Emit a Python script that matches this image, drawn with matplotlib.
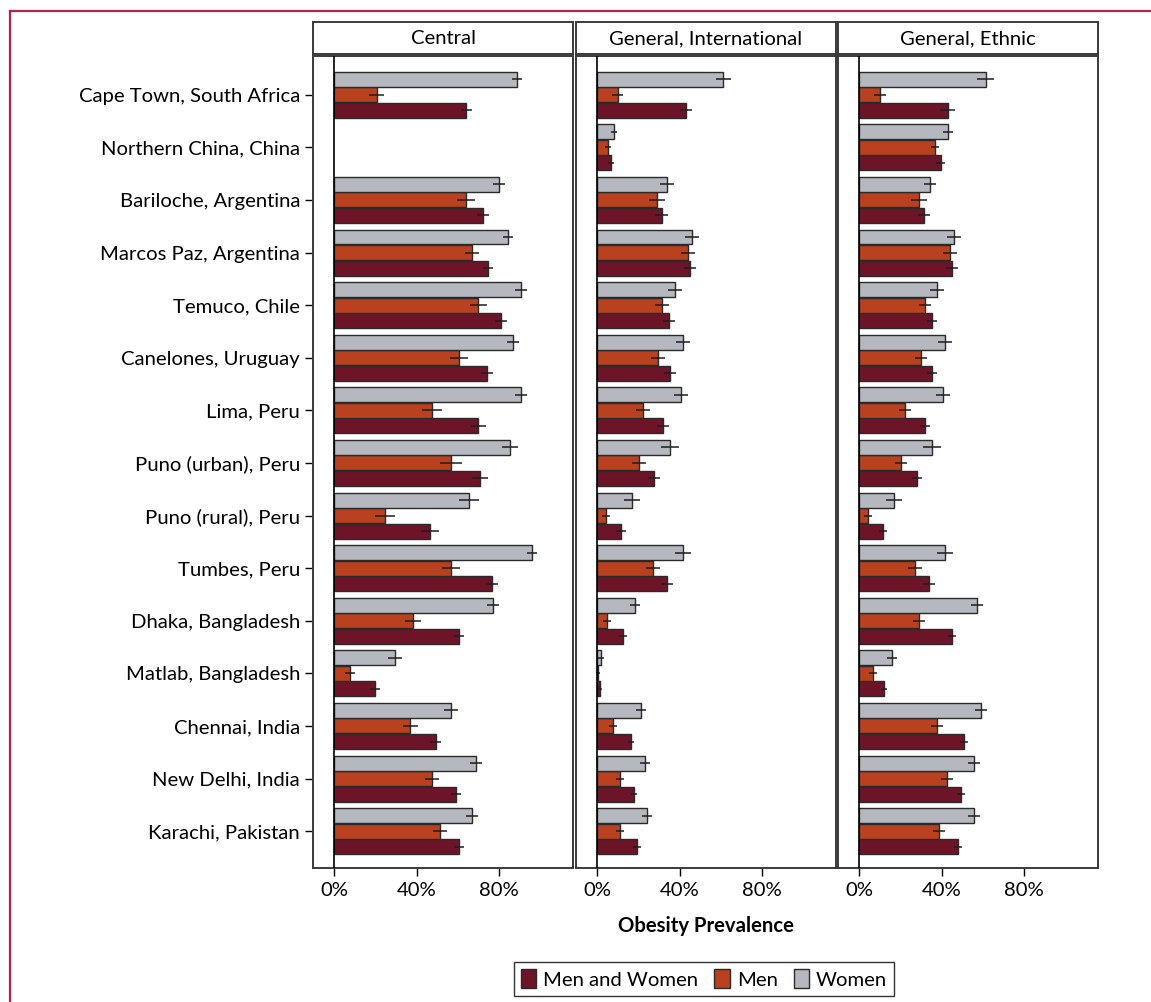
import numpy as np
import matplotlib
matplotlib.use("Agg")
import matplotlib.pyplot as plt
from matplotlib.patches import Patch
from matplotlib.lines import Line2D

plt.rcParams['font.family'] = ['Lato', 'DejaVu Sans']

sites = [
    "Cape Town, South Africa", "Northern China, China", "Bariloche, Argentina",
    "Marcos Paz, Argentina", "Temuco, Chile", "Canelones, Uruguay", "Lima, Peru",
    "Puno (urban), Peru", "Puno (rural), Peru", "Tumbes, Peru", "Dhaka, Bangladesh",
    "Matlab, Bangladesh", "Chennai, India", "New Delhi, India", "Karachi, Pakistan",
]
panels = ["Central", "General, International", "General, Ethnic"]
series = ["Men and Women", "Men", "Women"]
x_ticks = [0, 40, 80]
x_tick_labels = ["0%", "40%", "80%"]

nan = np.nan
# Obesity prevalence (%) per site, for each definition
central_women = [88.7, nan, 80.0, 84.4, 90.7, 86.8, 90.7, 85.3, 65.5, 96.0, 77.0, 29.6, 56.7, 68.8, 66.9]
central_men = [20.7, nan, 64.0, 67.0, 70.0, 60.6, 47.5, 56.7, 24.7, 56.7, 38.3, 7.8, 37.0, 47.5, 51.4]
central_both = [64.2, nan, 72.3, 74.7, 81.0, 74.2, 70.0, 70.8, 46.5, 76.6, 60.6, 20.0, 49.3, 59.0, 60.6]

intl_women = [61.3, 8.1, 34.0, 46.0, 37.8, 41.7, 40.7, 35.4, 17.0, 41.7, 18.4, 2.1, 21.3, 23.3, 24.2]
intl_men = [10.0, 5.3, 29.2, 44.0, 31.5, 29.6, 22.3, 20.4, 4.4, 27.2, 4.8, 0.6, 7.8, 11.2, 11.2]
intl_both = [43.0, 6.6, 31.3, 45.0, 34.9, 35.4, 32.0, 27.6, 11.6, 34.0, 12.6, 1.5, 16.5, 17.9, 19.4]

ethnic_women = [61.4, 43.0, 34.3, 46.0, 37.8, 41.7, 40.7, 35.4, 17.0, 41.7, 57.2, 16.0, 59.2, 55.8, 55.8]
ethnic_men = [10.3, 36.8, 29.2, 44.0, 32.0, 30.0, 22.3, 20.4, 4.4, 27.2, 29.1, 6.8, 37.8, 42.7, 38.8]
ethnic_both = [43.0, 39.6, 31.5, 45.0, 35.4, 35.4, 32.0, 28.1, 11.6, 34.0, 45.0, 12.1, 50.9, 49.5, 48.0]

# Half-widths of the 95% confidence intervals (%)
central_women_ci = [2.5, nan, 3.0, 2.5, 3.0, 3.0, 3.0, 4.0, 5.0, 2.5, 3.0, 3.2, 3.2, 3.0, 3.0]
central_men_ci = [3.5, nan, 4.4, 3.5, 4.0, 4.5, 5.0, 5.5, 5.0, 4.5, 4.0, 2.4, 3.6, 3.5, 3.5]
central_both_ci = [2.5, nan, 3.0, 2.5, 3.0, 3.0, 3.5, 4.0, 4.5, 3.0, 2.5, 2.4, 2.7, 2.5, 2.5]

intl_women_ci = [3.5, 1.4, 3.5, 3.5, 3.5, 3.5, 3.5, 4.5, 4.0, 4.0, 2.5, 1.5, 2.5, 2.5, 2.5]
intl_men_ci = [2.5, 1.3, 4.0, 3.5, 3.5, 3.5, 3.5, 3.5, 2.0, 3.5, 2.0, 1.0, 2.0, 2.0, 2.0]
intl_both_ci = [3.0, 1.4, 3.0, 3.0, 3.0, 3.0, 3.0, 3.0, 2.5, 3.0, 2.0, 1.0, 1.5, 1.5, 2.0]

ethnic_women_ci = [4.0, 2.4, 3.0, 3.5, 3.5, 3.5, 3.5, 4.5, 4.0, 4.0, 3.0, 2.5, 3.0, 3.0, 3.0]
ethnic_men_ci = [3.0, 2.0, 4.0, 3.5, 3.0, 3.0, 3.0, 3.0, 2.0, 3.5, 3.0, 2.0, 3.0, 3.0, 3.0]
ethnic_both_ci = [3.5, 2.2, 2.7, 3.0, 2.5, 2.5, 2.5, 2.5, 2.0, 3.0, 2.0, 1.5, 2.0, 2.0, 2.0]

data = {
    "Central": (central_both, central_men, central_women),
    "General, International": (intl_both, intl_men, intl_women),
    "General, Ethnic": (ethnic_both, ethnic_men, ethnic_women),
}
errors = {
    "Central": (central_both_ci, central_men_ci, central_women_ci),
    "General, International": (intl_both_ci, intl_men_ci, intl_women_ci),
    "General, Ethnic": (ethnic_both_ci, ethnic_men_ci, ethnic_women_ci),
}

colors = {"Men and Women": "#6e1429", "Men": "#b9411f", "Women": "#b5b8bf"}
offsets = {"Men and Women": 0.295, "Men": 0.0, "Women": -0.295}
bar_h = 0.285
frame_col = "#3a3a3a"

W, H = 1151, 1002
fig = plt.figure(figsize=(W / 100, H / 100), dpi=100)

panel_x = [313, 576, 838]
panel_w = 260
ax_top, ax_bot = 55.5, 867.5
strip_top, strip_bot = 22, 54

fs = 14.6
y = np.arange(len(sites))
axes = []
for k, name in enumerate(panels):
    x0 = panel_x[k]
    ax = fig.add_axes([x0 / W, 1 - ax_bot / H, panel_w / W, (ax_bot - ax_top) / H])
    axes.append(ax)
    vals = data[name]
    errs = errors[name]
    for s, v, e in zip(series, vals, errs):
        v = np.array(v, dtype=float)
        e = np.array(e, dtype=float)
        ax.barh(y + offsets[s], v, height=bar_h, color=colors[s],
                edgecolor="#2a2a2a", linewidth=1.0, zorder=2)
        ax.errorbar(v, y + offsets[s], xerr=e, fmt="none", ecolor="#1e1e1e",
                    elinewidth=1.1, capsize=0, zorder=3)
    ax.set_xlim(-10.2, 115.9)
    ax.set_ylim(len(sites) - 1 + 0.69, -0.745)
    ax.axvline(0, color="black", linewidth=1.2, zorder=4)
    ax.set_xticks(x_ticks)
    ax.set_xticklabels(x_tick_labels, fontsize=fs)
    ax.tick_params(axis="x", length=5.8, width=1.0, color="black", pad=4.5)
    if k == 0:
        ax.set_yticks(y)
        ax.set_yticklabels(sites, fontsize=fs)
        ax.tick_params(axis="y", length=5.8, width=1.0, color="black", pad=3.5)
    else:
        ax.set_yticks([])
    for sp in ax.spines.values():
        sp.set_color(frame_col)
        sp.set_linewidth(1.4)

    # panel header strip
    sax = fig.add_axes([x0 / W, 1 - strip_bot / H, panel_w / W, (strip_bot - strip_top) / H])
    sax.set_xticks([])
    sax.set_yticks([])
    for sp in sax.spines.values():
        sp.set_color(frame_col)
        sp.set_linewidth(1.4)
    sax.text(0.5, 0.47, name, ha="center", va="center", fontsize=fs,
             transform=sax.transAxes)

fig.text(706 / W, 1 - 926 / H, "Obesity Prevalence", ha="center", va="center",
         fontsize=fs, fontweight="bold")

handles = [Patch(facecolor=colors[s], edgecolor="#2a2a2a", linewidth=1.0) for s in series]
leg = fig.legend(handles, series, loc="center", bbox_to_anchor=(704 / W, 1 - 979 / H),
                 ncol=3, fontsize=fs, frameon=True, fancybox=False,
                 handlelength=0.75, handleheight=1.0, handletextpad=0.35,
                 columnspacing=0.8, borderpad=0.35, borderaxespad=0)
leg.get_frame().set_edgecolor("black")
leg.get_frame().set_linewidth(1.0)

# outer accent frame along the top and left edges
frame_red = "#b3224f"
fig.add_artist(Line2D([9.5 / W, 1.0], [1 - 10.5 / H, 1 - 10.5 / H],
                      transform=fig.transFigure, color=frame_red, linewidth=1.6))
fig.add_artist(Line2D([9.5 / W, 9.5 / W], [0.0, 1 - 10.5 / H],
                      transform=fig.transFigure, color=frame_red, linewidth=1.6))

fig.savefig("out.png", dpi=100, facecolor="white")
